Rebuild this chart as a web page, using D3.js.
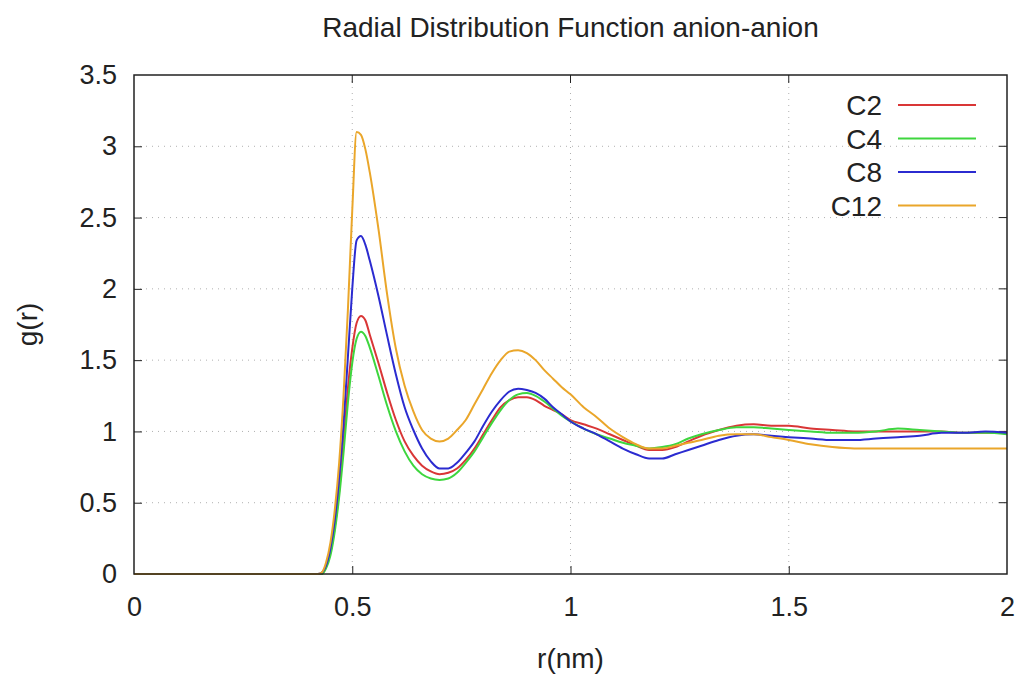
<!DOCTYPE html>
<html>
<head>
<meta charset="utf-8">
<script src="https://cdn.jsdelivr.net/npm/d3@7"></script>
<style>
  body { margin: 0; background: #fff; }
  text { font-family: "Liberation Sans", Arial, sans-serif; fill: #222; }
</style>
</head>
<body>
<div id="chart"></div>
<script>
// r values (nm), shared by all series
const rValues = [0, 0.42, 0.43, 0.44, 0.45, 0.46, 0.47, 0.48, 0.49, 0.50, 0.51, 0.52, 0.53, 0.54, 0.56, 0.58, 0.60, 0.62, 0.64, 0.66, 0.68, 0.70, 0.72, 0.74, 0.76, 0.78, 0.80, 0.82, 0.84, 0.86, 0.88, 0.90, 0.92, 0.94, 0.96, 0.98, 1.00, 1.03, 1.06, 1.09, 1.12, 1.15, 1.18, 1.21, 1.24, 1.27, 1.30, 1.34, 1.38, 1.42, 1.46, 1.50, 1.55, 1.60, 1.65, 1.70, 1.75, 1.80, 1.85, 1.90, 1.95, 2.00];

const gC2 = [0, 0, 0.0, 0.05, 0.15, 0.33, 0.58, 0.92, 1.30, 1.58, 1.76, 1.81, 1.78, 1.68, 1.48, 1.27, 1.08, 0.93, 0.83, 0.76, 0.72, 0.70, 0.71, 0.74, 0.80, 0.88, 0.98, 1.08, 1.17, 1.22, 1.24, 1.24, 1.22, 1.18, 1.15, 1.12, 1.08, 1.05, 1.02, 0.98, 0.94, 0.90, 0.87, 0.87, 0.89, 0.93, 0.97, 1.01, 1.04, 1.05, 1.04, 1.04, 1.02, 1.01, 1.00, 1.00, 1.00, 1.00, 1.00, 0.99, 0.99, 0.99];
const gC4 = [0, 0, 0.0, 0.04, 0.13, 0.30, 0.54, 0.85, 1.20, 1.48, 1.65, 1.70, 1.67, 1.59, 1.39, 1.18, 1.00, 0.86, 0.76, 0.70, 0.67, 0.66, 0.67, 0.71, 0.78, 0.86, 0.96, 1.06, 1.15, 1.22, 1.26, 1.27, 1.25, 1.21, 1.16, 1.11, 1.07, 1.02, 0.98, 0.95, 0.92, 0.90, 0.88, 0.89, 0.91, 0.95, 0.98, 1.01, 1.03, 1.03, 1.02, 1.01, 1.00, 0.99, 0.99, 1.00, 1.02, 1.01, 1.00, 0.99, 0.99, 0.98];
const gC8 = [0, 0, 0.01, 0.06, 0.18, 0.38, 0.68, 1.05, 1.52, 2.00, 2.34, 2.37, 2.31, 2.20, 1.95, 1.67, 1.40, 1.17, 1.01, 0.88, 0.79, 0.74, 0.74, 0.78, 0.85, 0.93, 1.04, 1.14, 1.22, 1.28, 1.30, 1.29, 1.27, 1.23, 1.17, 1.12, 1.07, 1.02, 0.98, 0.93, 0.88, 0.84, 0.81, 0.81, 0.84, 0.87, 0.90, 0.94, 0.97, 0.98, 0.97, 0.96, 0.95, 0.94, 0.94, 0.95, 0.96, 0.97, 0.99, 0.99, 1.00, 0.99];
const gC12 = [0, 0, 0.01, 0.08, 0.22, 0.45, 0.78, 1.25, 1.85, 2.55, 3.10, 3.08, 2.98, 2.82, 2.42, 1.96, 1.58, 1.32, 1.14, 1.01, 0.95, 0.93, 0.95, 1.01, 1.08, 1.19, 1.30, 1.41, 1.50, 1.56, 1.57, 1.55, 1.50, 1.43, 1.37, 1.31, 1.26, 1.17, 1.10, 1.02, 0.96, 0.91, 0.88, 0.88, 0.90, 0.92, 0.94, 0.97, 0.98, 0.98, 0.96, 0.94, 0.91, 0.89, 0.88, 0.88, 0.88, 0.88, 0.88, 0.88, 0.88, 0.88];

const seriesNames = ["C2", "C4", "C8", "C12"];
const seriesValues = [gC2, gC4, gC8, gC12];
const seriesColors = ["#d93636", "#3ed63e", "#2b2bd0", "#eaa62a"];

const xTicks = [0, 0.5, 1, 1.5, 2];
const yTicks = [0, 0.5, 1, 1.5, 2, 2.5, 3, 3.5];

const width = 1022;
const height = 675;
const margin = {top: 75, right: 15, bottom: 101, left: 134};

const svg = d3.select("#chart")
    .append("svg")
    .attr("width", width)
    .attr("height", height);

const x = d3.scaleLinear()
    .domain([0, 2])
    .range([margin.left, width - margin.right]);

const y = d3.scaleLinear()
    .domain([0, 3.5])
    .range([height - margin.bottom, margin.top]);

// dotted grid
const grid = svg.append("g")
    .attr("stroke", "#b0b0b0")
    .attr("stroke-width", 1)
    .attr("stroke-dasharray", "1,5");

grid.selectAll("line.gx")
    .data(xTicks.slice(1, -1))
    .join("line")
    .attr("class", "gx")
    .attr("x1", d => x(d)).attr("x2", d => x(d))
    .attr("y1", y(0)).attr("y2", y(3.5));

grid.selectAll("line.gy")
    .data(yTicks.slice(1, -1))
    .join("line")
    .attr("class", "gy")
    .attr("x1", x(0)).attr("x2", x(2))
    .attr("y1", d => y(d)).attr("y2", d => y(d));

// axes, ticks pointing inward
const xAxis = svg.append("g")
    .attr("transform", "translate(0," + y(0) + ")")
    .call(d3.axisBottom(x).tickValues(xTicks).tickSizeInner(-8).tickSizeOuter(0).tickPadding(23)
        .tickFormat(d3.format("")));

const yAxis = svg.append("g")
    .attr("transform", "translate(" + x(0) + ",0)")
    .call(d3.axisLeft(y).tickValues(yTicks).tickSizeInner(-8).tickSizeOuter(0).tickPadding(17)
        .tickFormat(d3.format("")));

[xAxis, yAxis].forEach(a => {
    a.select(".domain").remove();
    a.selectAll(".tick line").attr("stroke", "#222").attr("stroke-width", 1);
    a.selectAll(".tick text").attr("font-size", 27).attr("fill", "#222")
        .attr("font-family", "Liberation Sans, Arial, sans-serif");
});
// drop ticks sitting on the corners
xAxis.selectAll(".tick line").filter(d => d === 0 || d === 2).remove();
yAxis.selectAll(".tick line").filter(d => d === 0 || d === 3.5).remove();

// mirrored ticks on top and right
svg.append("g")
    .selectAll("line")
    .data(xTicks.slice(1, -1))
    .join("line")
    .attr("x1", d => x(d)).attr("x2", d => x(d))
    .attr("y1", y(3.5)).attr("y2", y(3.5) + 8)
    .attr("stroke", "#222");

svg.append("g")
    .selectAll("line")
    .data(yTicks.slice(1, -1))
    .join("line")
    .attr("x1", x(2)).attr("x2", x(2) - 8)
    .attr("y1", d => y(d)).attr("y2", d => y(d))
    .attr("stroke", "#222");

// curves
const line = d3.line()
    .x((d, i) => x(rValues[i]))
    .y(d => y(d))
    .curve(d3.curveMonotoneX);

svg.append("g")
    .attr("fill", "none")
    .attr("stroke-width", 2)
    .selectAll("path")
    .data(seriesValues)
    .join("path")
    .attr("stroke", (d, i) => seriesColors[i])
    .attr("d", line);

// border
svg.append("rect")
    .attr("x", x(0))
    .attr("y", y(3.5))
    .attr("width", x(2) - x(0))
    .attr("height", y(0) - y(3.5))
    .attr("fill", "none")
    .attr("stroke", "#222")
    .attr("stroke-width", 1.5);

// legend
const legend = svg.append("g")
    .selectAll("g")
    .data(seriesNames)
    .join("g")
    .attr("transform", (d, i) => "translate(0," + (105 + i * 33.5) + ")");

legend.append("text")
    .attr("x", 882)
    .attr("y", 10)
    .attr("text-anchor", "end")
    .attr("font-size", 28)
    .text(d => d);

legend.append("line")
    .attr("x1", 898)
    .attr("x2", 976)
    .attr("stroke", (d, i) => seriesColors[i])
    .attr("stroke-width", 2);

// titles
svg.append("text")
    .attr("x", (x(0) + x(2)) / 2)
    .attr("y", 37)
    .attr("text-anchor", "middle")
    .attr("font-size", 28)
    .text("Radial Distribution Function anion-anion");

svg.append("text")
    .attr("x", (x(0) + x(2)) / 2)
    .attr("y", 668)
    .attr("text-anchor", "middle")
    .attr("font-size", 28)
    .text("r(nm)");

svg.append("text")
    .attr("transform", "translate(37," + ((y(0) + y(3.5)) / 2) + ") rotate(-90)")
    .attr("text-anchor", "middle")
    .attr("font-size", 28)
    .text("g(r)");
</script>
</body>
</html>
